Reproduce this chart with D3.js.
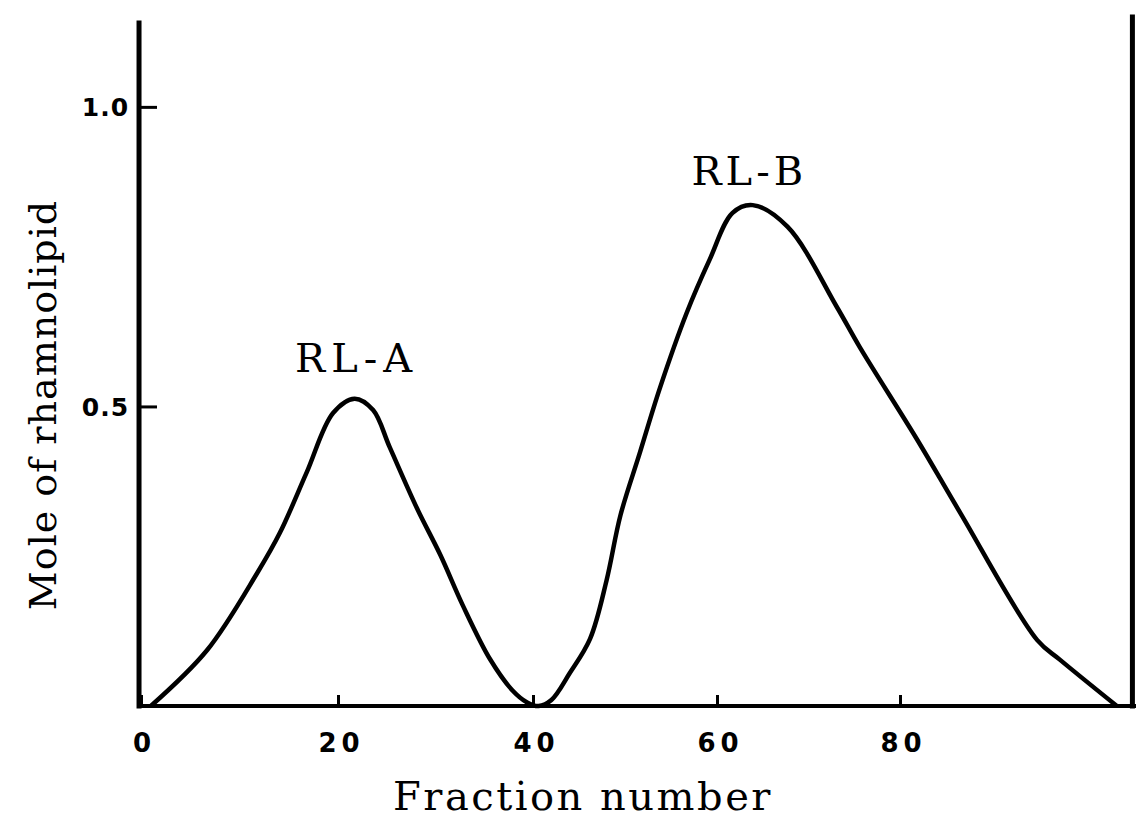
<!DOCTYPE html>
<html>
<head>
<meta charset="utf-8">
<script src="https://cdn.jsdelivr.net/npm/d3@7"></script>
<style>
  body { margin: 0; background: #fff; }
</style>
</head>
<body>
<script>
// values
const fraction = [1, 6.7, 11.8, 14.1, 16.8, 19.5, 21.7, 23.6, 25.3, 28.1, 30.5, 32.8, 35.6, 37.9, 39.4, 40.6,
    42.0, 44.0, 46.2, 48.0, 49.5, 51.6, 53.8, 56.7, 59.2, 61.7, 63.9, 67.7, 73.1, 75.6, 81.9, 86.6, 95.0, 97.5, 103.7];
const mole = [0, 0.093, 0.222, 0.289, 0.389, 0.489, 0.513, 0.494, 0.432, 0.330, 0.252, 0.168, 0.078, 0.026, 0.006, 0,
    0.010, 0.055, 0.112, 0.210, 0.318, 0.422, 0.531, 0.656, 0.745, 0.823, 0.836, 0.800, 0.666, 0.599, 0.444, 0.322, 0.110, 0.077, 0];

const xTicks = [0, 20, 40, 60, 80];
const yTicks = [0.5, 1.0];
const yTickLabels = ["0.5", "1.0"];

const peakNames = ["RL-A", "RL-B"];
const peakFraction = [21.6, 63.2];
const peakLabelValue = [0.557, 0.87];

const svg = d3.select("body").append("svg")
    .attr("width", 1136)
    .attr("height", 832);

// the printed axis is a little uneven, so the scale follows the tick marks
const x = d3.scaleLinear()
    .domain([0, 20, 40, 60, 80, 100])
    .range([141, 338, 533, 717, 900, 1083]);

const y = d3.scaleLinear()
    .domain([0, 1.15])
    .range([706, 17]);

// frame: left axis, bottom axis, right edge
const frame = svg.append("g")
    .attr("stroke", "#000")
    .attr("stroke-linecap", "square");

frame.append("line")
    .attr("x1", x(-0.2)).attr("x2", x(-0.2))
    .attr("y1", y(1.14)).attr("y2", y(0))
    .attr("stroke-width", 5);

frame.append("line")
    .attr("x1", x(-0.2)).attr("x2", 1136)
    .attr("y1", y(0)).attr("y2", y(0))
    .attr("stroke-width", 4);

frame.append("line")
    .attr("x1", x(105.4)).attr("x2", x(105.4))
    .attr("y1", y(1.15)).attr("y2", y(0))
    .attr("stroke-width", 5);

const yAxis = svg.append("g")
    .attr("transform", `translate(${x(-0.2)},0)`)
    .call(d3.axisLeft(y)
        .tickValues(yTicks)
        .tickFormat((d, i) => yTickLabels[i])
        .tickSize(-18)
        .tickPadding(10));

yAxis.select(".domain").remove();
yAxis.selectAll(".tick line").attr("stroke-width", 3);
yAxis.selectAll(".tick text")
    .style("font", "bold 25px 'DejaVu Sans'")
    .style("letter-spacing", "1px")
    .attr("dy", "0.36em");

const xAxis = svg.append("g")
    .attr("transform", `translate(0,${y(0)})`)
    .call(d3.axisBottom(x)
        .tickValues(xTicks)
        .tickSize(-11)
        .tickPadding(28));

xAxis.select(".domain").remove();
xAxis.selectAll(".tick line").attr("stroke-width", 3);
xAxis.selectAll(".tick text")
    .style("font", "bold 26px 'DejaVu Sans'")
    .style("letter-spacing", "5px")
    .attr("dx", 3);

// curve
const line = d3.line()
    .x((d, i) => x(fraction[i]))
    .y(d => Math.min(y(d), y(0)))
    .curve(d3.curveCatmullRom.alpha(0.5));

svg.append("path")
    .datum(mole)
    .attr("fill", "none")
    .attr("stroke", "#000")
    .attr("stroke-width", 4.5)
    .attr("stroke-linejoin", "round")
    .attr("d", line);

// peak names
svg.selectAll(".peak")
    .data(peakNames)
    .join("text")
    .attr("class", "peak")
    .attr("x", (d, i) => x(peakFraction[i]))
    .attr("y", (d, i) => y(peakLabelValue[i]))
    .attr("dx", 3)
    .attr("text-anchor", "middle")
    .style("font", "40px 'DejaVu Serif'")
    .style("letter-spacing", (d, i) => i === 0 ? "6px" : "4px")
    .text(d => d);

// axis titles
svg.append("text")
    .attr("x", 582)
    .attr("y", 810)
    .attr("dx", 1)
    .attr("text-anchor", "middle")
    .style("font", "40px 'DejaVu Serif'")
    .style("letter-spacing", "2.5px")
    .text("Fraction number");

svg.append("text")
    .attr("transform", "translate(56,405) rotate(-90)")
    .attr("text-anchor", "middle")
    .style("font", "38px 'DejaVu Serif'")
    .style("letter-spacing", "1px")
    .text("Mole of rhamnolipid");
</script>
</body>
</html>
